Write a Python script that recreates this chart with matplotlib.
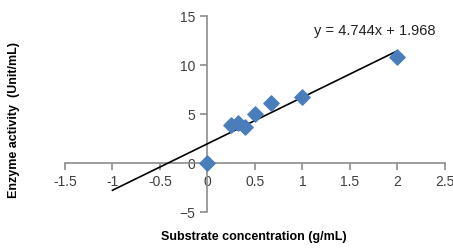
import numpy as np
import matplotlib
matplotlib.use('Agg')
import matplotlib.pyplot as plt

# substrate concentration (g/mL) and enzyme activity (Unit/mL)
conc = [0, 0.25, 0.32, 0.4, 0.5, 0.67, 1.0, 2.0]
activity = [0, 3.9, 4.1, 3.7, 5.05, 6.1, 6.7, 10.8]

slope, intercept = 4.744, 1.968
fit_x = np.array([-1.0, 2.0])

xticks = [-1.5, -1, -0.5, 0, 0.5, 1, 1.5, 2, 2.5]
yticks = [-5, 0, 5, 10, 15]

plt.rcParams['font.family'] = ['Liberation Sans', 'DejaVu Sans']

fig = plt.figure(figsize=(4.53, 2.48), dpi=100)
ax = fig.add_axes([0.1435, 0.145, 0.8385, 0.79])

ax.plot(fit_x, slope * fit_x + intercept, color='black', lw=1.2, zorder=3)
ax.scatter(conc, activity, marker='D', s=60, color='#4a7ebb', zorder=4)

ax.set_xlim(-1.5, 2.5)
ax.set_ylim(-5, 15)
ax.set_xticks(xticks)
ax.set_xticklabels(['-1.5', '-1', '-0.5', '0', '0.5', '1', '1.5', '2', '2.5'])
ax.set_yticks(yticks)

for s in ['top', 'right']:
    ax.spines[s].set_visible(False)
ax.spines['left'].set_position(('data', 0))
ax.spines['bottom'].set_position(('data', 0))
for s in ['left', 'bottom']:
    ax.spines[s].set_color('#8c8c8c')
    ax.spines[s].set_linewidth(1.2)
ax.tick_params(colors='#8c8c8c', labelcolor='#404040', labelsize=10, length=5, width=1.2)

ax.text(2.4, 12.8, 'y = 4.744x + 1.968', fontsize=10.5, color='#222222', ha='right', va='bottom')

fig.text(0.56, 0.02, 'Substrate concentration (g/mL)', ha='center', va='bottom',
         fontsize=9, fontweight='bold')
fig.text(0.032, 0.515, 'Enzyme activity  (Unit/mL)', ha='center', va='center', rotation=90,
         fontsize=9, fontweight='bold')

fig.savefig('out.png', dpi=100)
